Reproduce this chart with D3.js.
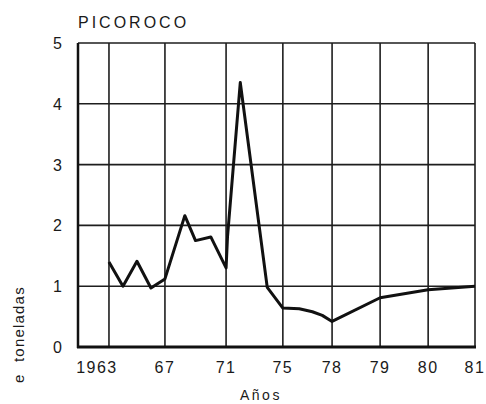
<!DOCTYPE html>
<html>
<head>
<meta charset="utf-8">
<script src="https://cdn.jsdelivr.net/npm/d3@7"></script>
<style>
  body { margin: 0; background: #fff; }
  svg text { font-family: "Liberation Sans", Arial, sans-serif; fill: #1a1a1a; }
</style>
</head>
<body>
<div id="chart"></div>
<script>
// data
var TITLE = "PICOROCO";
var YEARS = [1963, 1964, 1965, 1966, 1967, 1968.3, 1969, 1970, 1971, 1971.1, 1972,
             1973.9, 1975, 1976, 1976.8, 1977.4, 1978, 1979, 1980, 1981];
var VALUES = [1.40, 1.00, 1.41, 0.97, 1.12, 2.16, 1.75, 1.81, 1.30, 1.81, 4.35,
              0.98, 0.64, 0.63, 0.58, 0.52, 0.42, 0.81, 0.94, 1.00];
var TICK_YEARS = [1963, 1967, 1971, 1975, 1978, 1979, 1980, 1981];
var TICK_LABELS = ["1963", "67", "71", "75", "78", "79", "80", "81"];
var Y_TICKS = [0, 1, 2, 3, 4, 5];

var margin = {
    top: 43,
    right: 11,
    bottom: 57,
    left: 78
};

var width = 486 - margin.left - margin.right,
    height = 404 - margin.top - margin.bottom;

// the year axis is not linear: each labelled year gets its own spot
var tickFrac = [0.078, 0.219, 0.373, 0.516, 0.64, 0.761, 0.882, 1];

var x = d3.scaleLinear()
    .domain([1962.45].concat(TICK_YEARS))
    .range([0].concat(tickFrac.map(function (f) { return f * width; })));

var y = d3.scaleLinear()
    .domain([0, 5])
    .range([height, 0]);

var svg = d3.select("#chart").append("svg")
    .attr("width", 486)
    .attr("height", 404);

var g = svg.append("g")
    .attr("transform", "translate(" + margin.left + "," + margin.top + ")");

//grid
g.selectAll("line.hgrid")
    .data(Y_TICKS.slice(1))
    .enter().append("line")
    .attr("class", "hgrid")
    .attr("x1", 0)
    .attr("x2", width)
    .attr("y1", function (d) { return y(d); })
    .attr("y2", function (d) { return y(d); })
    .style("stroke", "#1e1e1e")
    .style("stroke-width", 1.6);

g.selectAll("line.vgrid")
    .data(TICK_YEARS)
    .enter().append("line")
    .attr("class", "vgrid")
    .attr("x1", function (d) { return x(d); })
    .attr("x2", function (d) { return x(d); })
    .attr("y1", 0)
    .attr("y2", height)
    .style("stroke", "#1e1e1e")
    .style("stroke-width", 1.6);

//axes frame
g.append("line")
    .attr("x1", 0).attr("x2", 0)
    .attr("y1", 0).attr("y2", height + 1)
    .style("stroke", "#111")
    .style("stroke-width", 2.5);

g.append("line")
    .attr("x1", -1).attr("x2", width + 1)
    .attr("y1", height).attr("y2", height)
    .style("stroke", "#111")
    .style("stroke-width", 3);

//tick labels
g.selectAll("text.ylab")
    .data(Y_TICKS)
    .enter().append("text")
    .attr("class", "ylab")
    .attr("x", -16)
    .attr("y", function (d) { return y(d) + 6; })
    .attr("text-anchor", "end")
    .style("font-size", "16px")
    .text(function (d) { return d; });

g.selectAll("text.xlab")
    .data(TICK_YEARS)
    .enter().append("text")
    .attr("class", "xlab")
    .attr("x", function (d, i) { return x(d) + (i === 0 ? -12 : 0); })
    .attr("y", height + 26)
    .attr("text-anchor", "middle")
    .style("font-size", "16px")
    .style("letter-spacing", "1.5px")
    .text(function (d, i) { return TICK_LABELS[i]; });

//the series
var line = d3.line()
    .x(function (d, i) { return x(YEARS[i]); })
    .y(function (d) { return y(d); });

g.append("path")
    .datum(VALUES)
    .attr("d", line)
    .style("fill", "none")
    .style("stroke", "#111")
    .style("stroke-width", 3)
    .style("stroke-linejoin", "round");

//titles
svg.append("text")
    .attr("x", 78)
    .attr("y", 28)
    .style("font-size", "16px")
    .style("letter-spacing", "3px")
    .text(TITLE);

svg.append("text")
    .attr("x", 240)
    .attr("y", 400)
    .style("font-size", "14px")
    .style("letter-spacing", "2.5px")
    .text("Años");

// y title is cut by the page edge: only "...e  toneladas" shows
svg.append("text")
    .attr("transform", "translate(24,362) rotate(-90)")
    .style("font-size", "15px")
    .style("letter-spacing", "1.2px")
    .text("toneladas");

svg.append("text")
    .attr("transform", "translate(24,383) rotate(-90)")
    .style("font-size", "15px")
    .text("e");
</script>
</body>
</html>
